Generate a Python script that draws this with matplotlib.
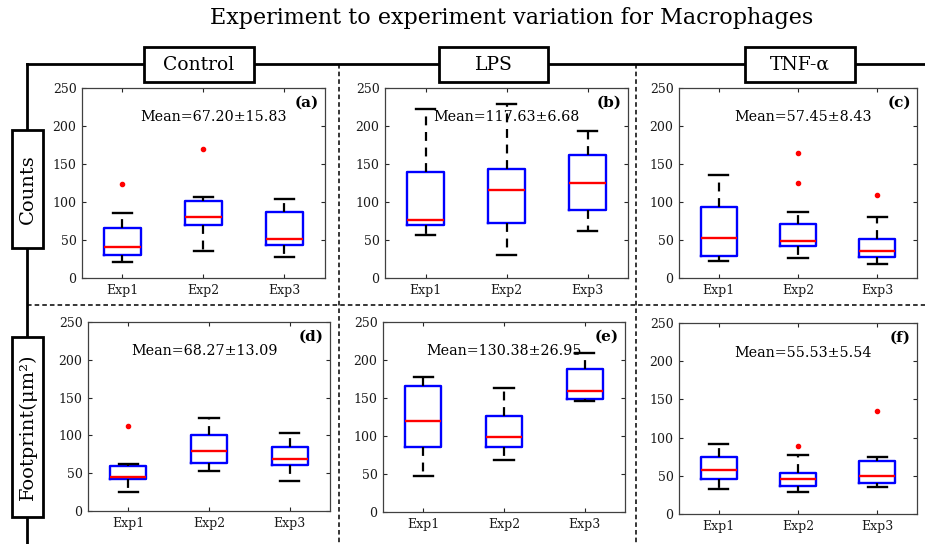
import matplotlib.pyplot as plt
from matplotlib.lines import Line2D
from matplotlib.patches import Rectangle

plt.rcParams['font.family'] = ['DejaVu Serif']

W, H = 925, 544

title = 'Experiment to experiment variation for Macrophages'
columns = ['Control', 'LPS', 'TNF-\u03b1']
rows = ['Counts', 'Footprint(\u03bcm\u00b2)']
exp_labels = ['Exp1', 'Exp2', 'Exp3']
panel_tags = ['(a)', '(b)', '(c)', '(d)', '(e)', '(f)']
mean_texts = ['Mean=67.20\u00b115.83', 'Mean=117.63\u00b16.68', 'Mean=57.45\u00b18.43',
              'Mean=68.27\u00b113.09', 'Mean=130.38\u00b126.95', 'Mean=55.53\u00b15.54']

# box stats per panel: [whisker low, q1, median, q3, whisker high] for Exp1..Exp3
counts_control = [[21, 30, 41, 66, 85], [35, 70, 80, 101, 107], [28, 44, 51, 87, 104]]
counts_control_out = [[124], [170], []]
counts_lps = [[56, 70, 76, 140, 222], [30, 72, 116, 144, 229], [62, 90, 125, 162, 193]]
counts_lps_out = [[], [], []]
counts_tnf = [[22, 29, 52, 93, 136], [26, 42, 49, 71, 87], [18, 28, 35, 51, 80]]
counts_tnf_out = [[], [164, 125], [109]]
foot_control = [[25, 42, 45, 60, 62], [53, 63, 80, 101, 123], [40, 61, 69, 84, 103]]
foot_control_out = [[112], [], []]
foot_lps = [[48, 86, 120, 166, 178], [69, 85, 99, 126, 163], [146, 149, 159, 188, 209]]
foot_lps_out = [[], [], []]
foot_tnf = [[33, 46, 57, 75, 92], [29, 37, 46, 54, 77], [35, 41, 50, 69, 74]]
foot_tnf_out = [[], [89], [135]]

panels = [(counts_control, counts_control_out), (counts_lps, counts_lps_out),
          (counts_tnf, counts_tnf_out), (foot_control, foot_control_out),
          (foot_lps, foot_lps_out), (foot_tnf, foot_tnf_out)]

# axes boxes in pixels: left, top, right, bottom
ax_px = [(82, 88, 325, 278), (385, 88, 628, 278), (679, 88, 917, 278),
         (88, 322, 330, 511), (383, 322, 625, 512), (679, 323, 917, 514)]
mean_x = [0.54, 0.5, 0.52, 0.48, 0.5, 0.52]


def fx(x):
    return x / W


def fy(y):
    return 1 - y / H


fig = plt.figure(figsize=(W / 100, H / 100), dpi=100)

for i, (vals, outs) in enumerate(panels):
    l, t, r, b = ax_px[i]
    ax = fig.add_axes([fx(l), fy(b), (r - l) / W, (b - t) / H])
    stats = []
    for v, o in zip(vals, outs):
        stats.append(dict(whislo=v[0], q1=v[1], med=v[2], q3=v[3], whishi=v[4], fliers=o))
    ax.bxp(stats, positions=[1, 2, 3], widths=0.45, capwidths=0.24,
           boxprops=dict(color='blue', lw=1.7),
           medianprops=dict(color='red', lw=1.7),
           whiskerprops=dict(color='black', lw=1.6, linestyle=(0, (4, 3))),
           capprops=dict(color='black', lw=1.7),
           flierprops=dict(marker='o', markersize=3, markerfacecolor='red',
                           markeredgecolor='red'))
    ax.set_xlim(0.5, 3.5)
    ax.set_ylim(0, 250)
    ax.set_yticks([0, 50, 100, 150, 200, 250])
    ax.set_xticks([1, 2, 3])
    ax.set_xticklabels(exp_labels)
    ax.tick_params(direction='in', top=True, right=True, length=3, width=0.8,
                   labelsize=9, colors='#262626', pad=4)
    for lab in ax.get_xticklabels() + ax.get_yticklabels():
        lab.set_color('#1a1a1a')
    for s in ax.spines.values():
        s.set_color('#404040')
        s.set_linewidth(0.9)
    ax.text(mean_x[i], 0.845, mean_texts[i], transform=ax.transAxes, ha='center',
            va='center', fontsize=10.3)
    ax.text(0.975, 0.925, panel_tags[i], transform=ax.transAxes, ha='right',
            va='center', fontsize=11, fontweight='bold')

# frame lines
lk = dict(color='black', lw=2, transform=fig.transFigure, zorder=1)
fig.add_artist(Line2D([fx(27), fx(925)], [fy(64), fy(64)], **lk))
fig.add_artist(Line2D([fx(27), fx(27)], [fy(64), fy(544)], **lk))
dk = dict(color='black', lw=1.1, linestyle=(0, (3, 2)), transform=fig.transFigure, zorder=1)
fig.add_artist(Line2D([fx(27), fx(925)], [fy(305), fy(305)], **dk))
fig.add_artist(Line2D([fx(339), fx(339)], [fy(64), fy(544)], **dk))
fig.add_artist(Line2D([fx(636), fx(636)], [fy(64), fy(544)], **dk))

# column headers
col_px = [(144, 254), (439, 548), (745, 855)]
for name, (x0, x1) in zip(columns, col_px):
    fig.add_artist(Rectangle((fx(x0), fy(82)), (x1 - x0) / W, 35 / H,
                             transform=fig.transFigure, facecolor='white',
                             edgecolor='black', lw=2, zorder=3))
    fig.text(fx((x0 + x1) / 2), fy(65), name, ha='center', va='center',
             fontsize=13.5, zorder=4)

# row headers
row_px = [(130, 248), (337, 517)]
for name, (y0, y1) in zip(rows, row_px):
    fig.add_artist(Rectangle((fx(12), fy(y1)), 31 / W, (y1 - y0) / H,
                             transform=fig.transFigure, facecolor='white',
                             edgecolor='black', lw=2, zorder=3))
    fig.text(fx(28), fy((y0 + y1) / 2), name, ha='center', va='center',
             rotation=90, fontsize=14, zorder=4)

fig.text(fx(512), fy(18), title, ha='center', va='center', fontsize=16)

fig.savefig('out.png', dpi=100)
